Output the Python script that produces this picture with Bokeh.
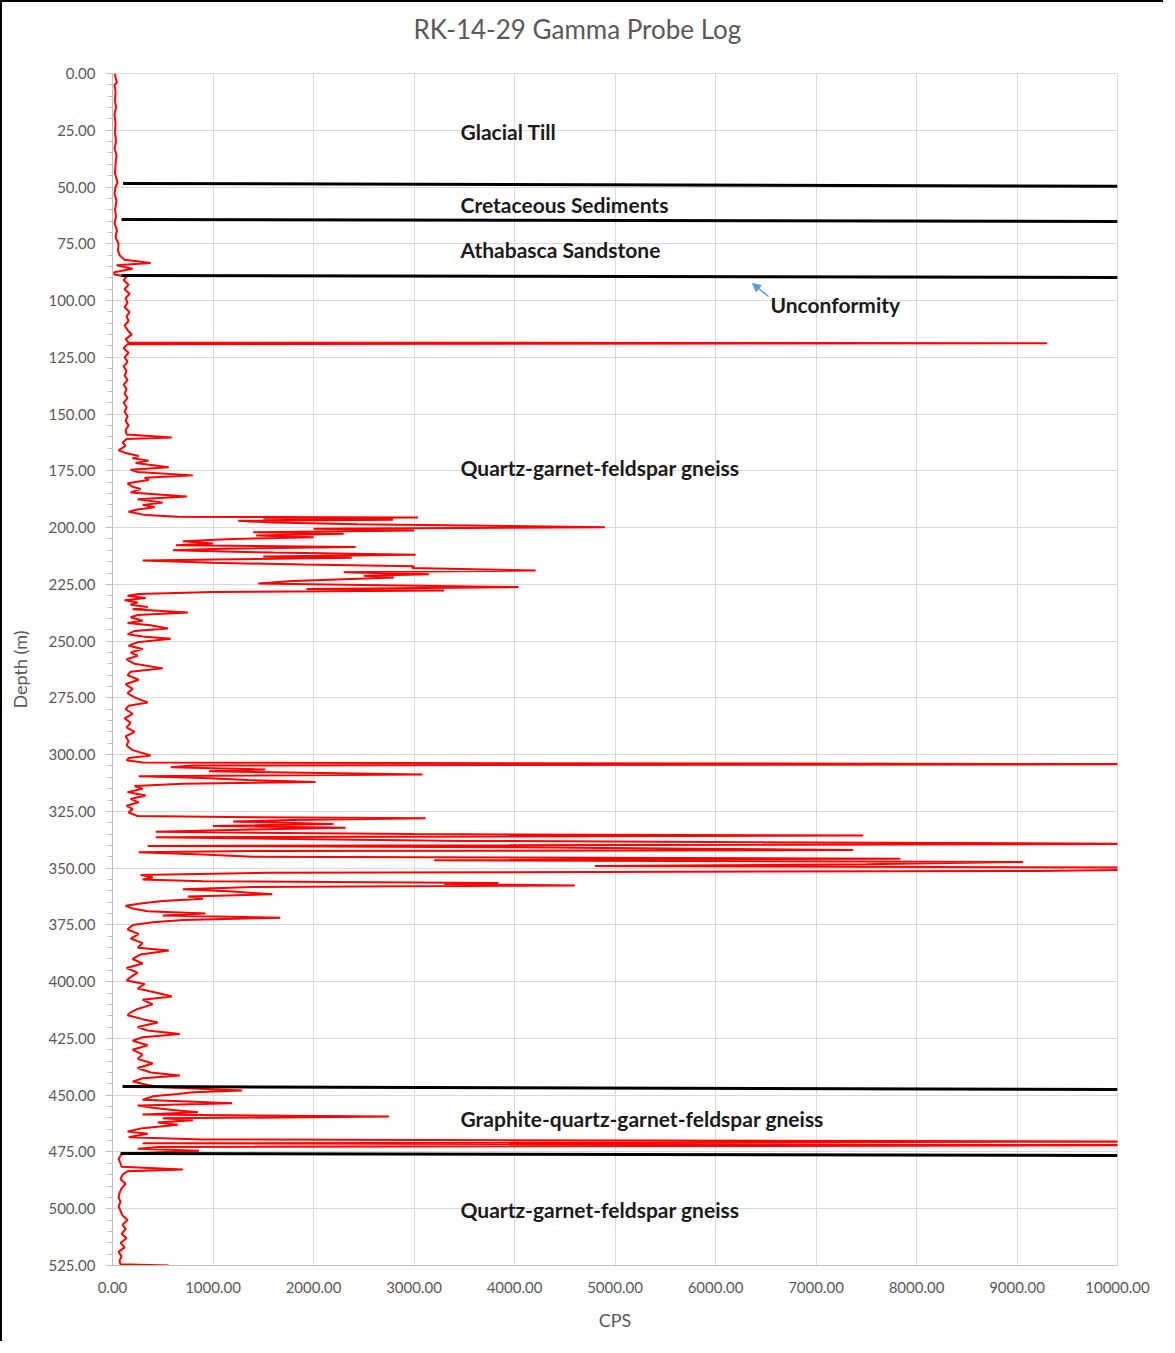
from bokeh.plotting import figure
from bokeh.models import (Range1d, SingleIntervalTicker, NumeralTickFormatter, Label,
                          Arrow, NormalHead, Title)
from bokeh.embed import file_html
from bokeh.resources import INLINE
from bokeh.core.properties import value

# ---------------- data ----------------
depth_m = [0, 2, 4, 5, 8, 12, 15, 18, 22, 26, 30, 33, 36, 40, 44, 48, 50, 53, 56, 60, 63, 66, 69, 72, 75, 78, 80, 82,
           83.5, 84.5, 86, 87.5, 88.5, 89.5, 91, 93, 95, 97, 99, 101, 103, 105, 107, 109, 111, 113, 115, 117, 118.5,
           118.8, 119.2, 121, 123, 125, 127, 129, 131, 133, 135, 137, 139, 141, 143, 145, 147, 149, 151, 153, 155,
           157, 159, 160.3, 161, 162.5, 164, 166, 167, 168.5, 169.5, 170.5, 171.5, 173.4, 174.5, 175.5, 177, 178,
           179, 180.5, 182, 183, 184.5, 186.3, 187.5, 189, 190, 191, 192, 193, 194.5, 195.2, 195.5, 196, 196.5, 197,
           197.8, 198.5, 199.8, 200.5, 201.3, 202, 202.7, 203.5, 204.2, 205, 206, 207, 207.8, 208.5, 209.3, 210,
           211, 212, 212.7, 213.3, 214.5, 215.5, 216.3, 217, 217.8, 218.9, 219.7, 220.5, 221.2, 222, 223.5, 224.6,
           225.3, 226.2, 227, 227.7, 228.4, 229.2, 230, 231, 232, 233, 234, 235, 236, 237.4, 238.5, 239.5, 241, 242,
           243, 244.4, 245.5, 247, 248, 249, 250.5, 252, 253.5, 255, 256.5, 258, 260, 262, 263.5, 265, 267, 269,
           271, 273, 275, 277, 278.5, 280, 282, 284, 286, 288, 290, 292, 294, 296, 298, 300.4, 301.5, 302.5, 303.5,
           304.2, 304.8, 305.5, 306.5, 307.3, 308.7, 309.5, 310.3, 311.2, 312, 312.8, 313.8, 315, 316.5, 318, 319.5,
           321, 322.5, 324, 325.5, 327, 327.6, 328, 328.8, 329.5, 330.5, 331.4, 332.2, 333, 334, 335, 335.6, 336.4,
           337.2, 338, 339.3, 340.2, 340.8, 342, 342.5, 343, 344, 345, 345.8, 346.5, 347.3, 348.3, 349, 349.8,
           350.5, 351.2, 352, 353, 354, 355, 355.8, 356.5, 357, 357.6, 358.3, 359.3, 360.3, 361.5, 362.5, 363.5,
           364.5, 365.5, 366.6, 367.8, 369, 370, 370.8, 371.8, 372.8, 373.8, 375, 377, 379, 381, 383, 385, 386.3,
           388, 390, 392, 394, 396, 398, 399.5, 401, 403, 405, 406.5, 408, 410, 412, 413.5, 414.8, 416.5, 418, 420,
           421.5, 423, 424.5, 426, 428, 430, 432, 434, 436, 438, 440, 441.3, 442.5, 444, 445.5, 446.5, 447.9,
           448.7, 449.5, 450.5, 452, 453.5, 454.5, 455.5, 456.5, 457.5, 458.5, 459.4, 460.2, 461, 462, 463, 464.5,
           466, 467, 468.5, 469.5, 470.4, 471.2, 472, 472.8, 473.6, 474.5, 475.3, 476, 478, 480, 481.5, 482.7,
           483.5, 485, 487, 489, 491, 493, 495, 497, 499, 501, 503, 505, 507, 509, 511, 513, 515, 517, 519, 521,
           523, 524.5, 525]

cps = [25, 30, 45, 20, 30, 25, 35, 20, 30, 25, 35, 20, 40, 30, 25, 50, 30, 20, 40, 25, 35, 20, 45, 30, 60, 55, 70, 120,
       380, 40, 200, 15, 20, 140, 110, 160, 120, 170, 130, 150, 120, 170, 140, 160, 120, 150, 190, 130, 160,
       9300, 150, 110, 160, 120, 150, 110, 140, 120, 150, 110, 140, 120, 150, 110, 140, 120, 150, 130, 160,
       130, 140, 590, 140, 100, 130, 60, 120, 260, 200, 360, 230, 560, 180, 250, 800, 320,
       360, 150, 200, 280, 180, 740, 250, 500, 300, 420, 250, 160, 330, 650, 3040, 1500, 2790, 1250,
       1600, 2440, 4900, 2000, 3000, 1400, 2300, 1430, 2000, 1200, 700, 1000, 630, 2420, 1100, 600,
       1600, 3015, 1500, 2380, 300, 1000, 1900, 3000, 2980, 4210, 2300, 3150, 2500, 2800, 1800, 1450,
       2490, 4040, 1930, 3300, 1000, 260, 150, 330, 120, 250, 180, 350, 200, 750, 250, 180, 300, 150,
       380, 550, 220, 150, 300, 580, 250, 160, 300, 180, 250, 140, 220, 500, 180, 150, 260, 130,
       200, 150, 230, 350, 160, 130, 200, 120, 180, 140, 220, 130, 160, 140, 200, 380, 160, 140, 300,
       10600, 800, 580, 1520, 960, 3085, 260, 900, 1350, 2020, 700, 220, 300, 150, 330, 180,
       260, 140, 200, 160, 250, 1400, 3115, 1800, 1200, 2200, 1000, 2320, 1400, 430, 3000, 7470, 430,
       1800, 3500, 10600, 350, 4000, 7370, 1200, 260, 900, 1400, 7840, 3200, 9060, 7500, 4800, 10500,
       10600, 9200, 1550, 280, 400, 300, 900, 3840, 3300, 4600, 1400, 700, 1200, 1590, 750, 900,
       500, 300, 130, 200, 350, 925, 500, 1670, 700, 400, 200, 150, 260, 180, 300, 250, 560,
       280, 200, 300, 140, 250, 180, 140, 320, 250, 450, 590, 300, 400, 250, 180, 150, 300, 450, 250,
       350, 670, 300, 200, 350, 200, 300, 250, 400, 250, 380, 670, 300, 200, 350, 500, 1290,
       800, 650, 400, 300, 1190, 250, 400, 600, 850, 300, 2750, 500, 800, 450, 650, 300,
       150, 350, 160, 900, 10600, 300, 10600, 450, 250, 860, 350, 90, 60, 80, 90, 700,
       150, 100, 80, 130, 90, 70, 60, 80, 60, 80, 100, 150, 100, 130, 90, 140, 80, 120, 60, 90,
       70, 80, 560]

# formation boundary lines: depth at left end, depth at right end, CPS at left end
boundary_depth_left = [48.4, 64.3, 89.0, 446.2, 475.7]
boundary_depth_right = [49.7, 65.2, 89.8, 447.5, 476.5]
boundary_cps_left = [105, 90, 90, 100, 80]
boundary_cps_right = 10000

# unit labels
unit_names = ["Glacial Till", "Cretaceous Sediments", "Athabasca Sandstone",
              "Quartz-garnet-feldspar gneiss", "Graphite-quartz-garnet-feldspar gneiss",
              "Quartz-garnet-feldspar gneiss"]
unit_depths = [25.5, 57.7, 77.5, 173.5, 460.2, 500.3]
unit_cps = [3463, 3463, 3463, 3463, 3463, 3463]

unconf_text = "Unconformity"
unconf_pos = (6547, 101.7)
arrow_tail = (6527, 98.2)
arrow_head = (6368, 92.5)

title_text = "RK-14-29 Gamma Probe Log"

FONT = "Lato"
GRAY = "#595959"

p = figure(width=1163, height=1341, output_backend="svg", toolbar_location=None,
           x_range=Range1d(0, 10000), y_range=Range1d(525, 0),
           min_border_left=110, min_border_right=48, min_border_top=71, min_border_bottom=78,
           background_fill_color="white", border_fill_color="white")

p.styles = {"border-left": "2px solid black", "border-top": "2px solid black"}

p.title.text = title_text
p.title.align = "left"
p.title.offset = 301
p.title.text_font = FONT
p.title.text_font_size = "26px"
p.title.text_font_style = "normal"
p.title.text_color = GRAY
p.title.standoff = 0

# blank spacer between the title and the plot frame
p.add_layout(Title(text=" ", text_font_size="10px", standoff=16, text_color="white"), "above")

p.outline_line_color = "#d9d9d9"

# axes
p.xaxis.ticker = SingleIntervalTicker(interval=1000, num_minor_ticks=0)
p.yaxis.ticker = SingleIntervalTicker(interval=25, num_minor_ticks=5)
p.xaxis.formatter = NumeralTickFormatter(format="0.00")
p.yaxis.formatter = NumeralTickFormatter(format="0.00")
for ax in (p.xaxis, p.yaxis):
    ax.axis_line_color = "#bfbfbf"
    ax.major_label_text_font = FONT
    ax.major_label_text_font_size = "15px"
    ax.major_label_text_color = GRAY
    ax.axis_label_text_font = FONT
    ax.axis_label_text_font_size = "18px"
    ax.axis_label_text_font_style = "normal"
    ax.axis_label_text_color = GRAY
p.xaxis.major_tick_line_color = None
p.xaxis.minor_tick_line_color = None
p.xaxis.major_tick_out = 0
p.xaxis.major_label_standoff = 16
p.xaxis.axis_label = "CPS"
p.xaxis.axis_label_standoff = 13

p.yaxis.major_tick_line_color = "#bfbfbf"
p.yaxis.minor_tick_line_color = "#bfbfbf"
p.yaxis.major_tick_out = 7
p.yaxis.major_tick_in = 0
p.yaxis.minor_tick_out = 5
p.yaxis.minor_tick_in = 0
p.yaxis.major_label_standoff = 10
p.yaxis.axis_label = "Depth (m)"
p.yaxis.axis_label_standoff = 14

p.xgrid.grid_line_color = "#d9d9d9"
p.ygrid.grid_line_color = "#d9d9d9"
p.xgrid.ticker = p.xaxis.ticker
p.ygrid.ticker = SingleIntervalTicker(interval=25)

# gamma log
p.line(cps, depth_m, line_color="#ff0000", line_width=2)

# boundaries
p.multi_line([[xl, boundary_cps_right] for xl in boundary_cps_left],
             [[dl, dr] for dl, dr in zip(boundary_depth_left, boundary_depth_right)],
             line_color="black", line_width=3)

for name, d, c in zip(unit_names, unit_depths, unit_cps):
    p.add_layout(Label(x=c, y=d, text=name, text_baseline="middle", text_align="left",
                       text_font=FONT, text_font_size="21px", text_font_style="bold",
                       text_color="#1a1a1a"))

p.add_layout(Label(x=unconf_pos[0], y=unconf_pos[1], text=unconf_text, text_baseline="middle",
                   text_align="left", text_font=FONT, text_font_size="21px",
                   text_font_style="bold", text_color="#1a1a1a"))
p.add_layout(Arrow(end=NormalHead(size=8, fill_color="#5b9bd5", line_color="#5b9bd5"),
                   x_start=arrow_tail[0], y_start=arrow_tail[1],
                   x_end=arrow_head[0], y_end=arrow_head[1],
                   line_color="#5b9bd5", line_width=1.5))

open("out.html", "w").write(file_html(p, INLINE))
